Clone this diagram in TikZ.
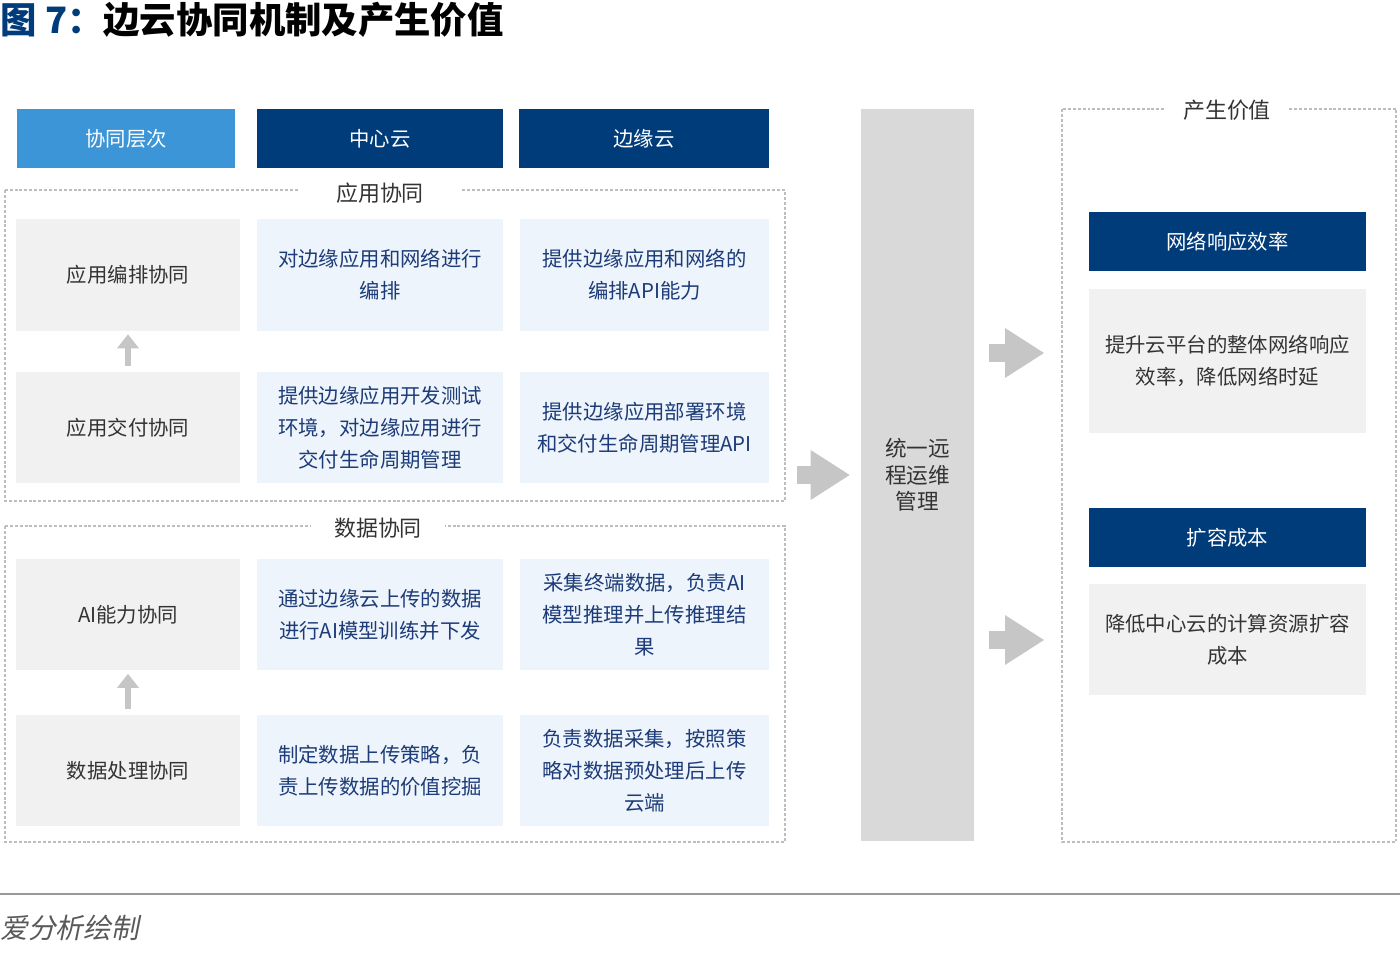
\documentclass[tikz,border=0pt]{standalone}
\usepackage{fontspec}
\setmainfont{Noto Sans CJK SC}
\newfontfamily\slantfont[FakeSlant=0.2]{Noto Sans CJK SC}
\usepackage{tikz}
\usetikzlibrary{positioning,arrows.meta}
\definecolor{navy}{RGB}{0,59,122}
\definecolor{skyhead}{RGB}{59,149,214}
\definecolor{cellgray}{RGB}{242,241,241}
\definecolor{cellblue}{RGB}{237,244,251}
\definecolor{inknavy}{RGB}{28,59,120}
\definecolor{inkgray}{RGB}{51,51,51}
\definecolor{bargray}{RGB}{217,217,217}
\definecolor{arrgray}{RGB}{198,198,198}
\definecolor{dashgray}{RGB}{190,190,190}
\newcommand\cellfont{\fontsize{11.6pt}{18.1pt}\selectfont}

\begin{document}
\begin{tikzpicture}[x=0.02cm,y=-0.02cm,
		every node/.style={inner sep=0pt,align=center},
		hdr/.style={fill=navy,text=white,font=\cellfont,minimum height=1.18cm},
		frame/.style={draw=dashgray,line width=0.6pt,dash pattern=on 1.7pt off 1.1pt},
		ftitle/.style={fill=white,text=inkgray,font=\fontsize{12.5pt}{15pt}\selectfont,inner ysep=2pt},
		lvl/.style={fill=cellgray,text=inkgray,font=\cellfont,minimum width=4.48cm,minimum height=2.24cm},
		ctr/.style={fill=cellblue,text=inknavy,font=\cellfont,minimum width=4.92cm,minimum height=2.24cm},
		edg/.style={fill=cellblue,text=inknavy,font=\cellfont,minimum width=4.98cm,minimum height=2.24cm},
		vhead/.style={fill=navy,text=white,font=\cellfont,minimum width=5.54cm,minimum height=1.18cm},
		vbody/.style={fill=cellgray,text=inkgray,font=\cellfont,minimum width=5.54cm},
		uparr/.style={draw=arrgray,line width=0.12cm,-{Triangle[width=0.44cm,length=0.28cm,line width=0pt]},shorten <=0.1cm,shorten >=0.06cm},
		fatarr/.style={draw=arrgray,line width=0.36cm,-{Triangle[width=1cm,length=0.78cm,line width=0pt]}}]
	\useasboundingbox (0,0) rectangle (1400,960);
	\node[anchor=west,font=\fontsize{20.7pt}{24pt}\selectfont\bfseries] (title) at (0,20) {\textcolor{navy}{图 7：}边云协同机制及产生价值};
	\node[hdr,fill=skyhead,minimum width=4.36cm] (hlayer) at (126,138.5) {协同层次};
	\node[hdr,minimum width=4.92cm] (hcenter) at (380,138.5) {中心云};
	\node[hdr,minimum width=5cm] (hedge) at (644,138.5) {边缘云};
	\draw[frame] (5,190) rectangle (785,501);
	\node[ftitle,inner xsep=0.72cm] (tapp) at (380,193) {应用协同};
	\draw[frame] (5,526) rectangle (785,842);
	\node[ftitle,inner xsep=0.46cm] (tdata) at (378,528) {数据协同};
	\node[lvl] (r1a) at (128,275) {应用编排协同};
	\node[ctr] (r1b) at (380,275) {对边缘应用和网络进行\\编排};
	\node[edg] (r1c) at (644.5,275) {提供边缘应用和网络的\\编排API能力};
	\node[lvl] (r2a) at (128,427.5) {应用交付协同};
	\node[ctr] (r2b) at (380,427.5) {提供边缘应用开发测试\\环境，对边缘应用进行\\交付生命周期管理};
	\node[edg] (r2c) at (644.5,427.5) {提供边缘应用部署环境\\和交付生命周期管理API};
	\node[lvl] (r3a) at (128,614.5) {AI能力协同};
	\node[ctr] (r3b) at (380,614.5) {通过边缘云上传的数据\\进行AI模型训练并下发};
	\node[edg] (r3c) at (644.5,614.5) {采集终端数据，负责AI\\模型推理并上传推理结\\果};
	\node[lvl] (r4a) at (128,770.5) {数据处理协同};
	\node[ctr] (r4b) at (380,770.5) {制定数据上传策略，负\\责上传数据的价值挖掘};
	\node[edg] (r4c) at (644.5,770.5) {负责数据采集，按照策\\略对数据预处理后上传\\云端};
	\draw[uparr] (r2a) -- (r1a);
	\draw[uparr] (r4a) -- (r3a);
	\node[fill=bargray,text=inkgray,font=\fontsize{12.3pt}{15pt}\selectfont,minimum width=2.26cm,minimum height=14.64cm] (ops) at (917.5,475) {统一远\\程运维\\管理};
	\coordinate (cin) at (797,475);
	\draw[fatarr,shorten >=0.22cm] (cin) -- (ops.west);
	\draw[frame] (1062,109) rectangle (1396,842);
	\node[ftitle,inner xsep=0.34cm] (tval) at (1227,110) {产生价值};
	\node[vhead] (v1h) at (1227.5,241.5) {网络响应效率};
	\node[vbody,minimum height=2.88cm] (v1b) at (1227.5,361) {提升云平台的整体网络响应\\效率，降低网络时延};
	\node[vhead] (v2h) at (1227.5,537.5) {扩容成本};
	\node[vbody,minimum height=2.22cm] (v2b) at (1227.5,639.5) {降低中心云的计算资源扩容\\成本};
	\coordinate (o1) at (989,353);
	\coordinate (t1) at (1044,353);
	\coordinate (o2) at (989,640);
	\coordinate (t2) at (1044,640);
	\draw[fatarr] (o1) -- (t1);
	\draw[fatarr] (o2) -- (t2);
	\draw[black!40,line width=0.9pt] (0,894) -- (1400,894);
	\node[anchor=west,text=black!65,font=\fontsize{15.8pt}{18pt}\slantfont] (src) at (0,928) {爱分析绘制};
\end{tikzpicture}
\end{document}
